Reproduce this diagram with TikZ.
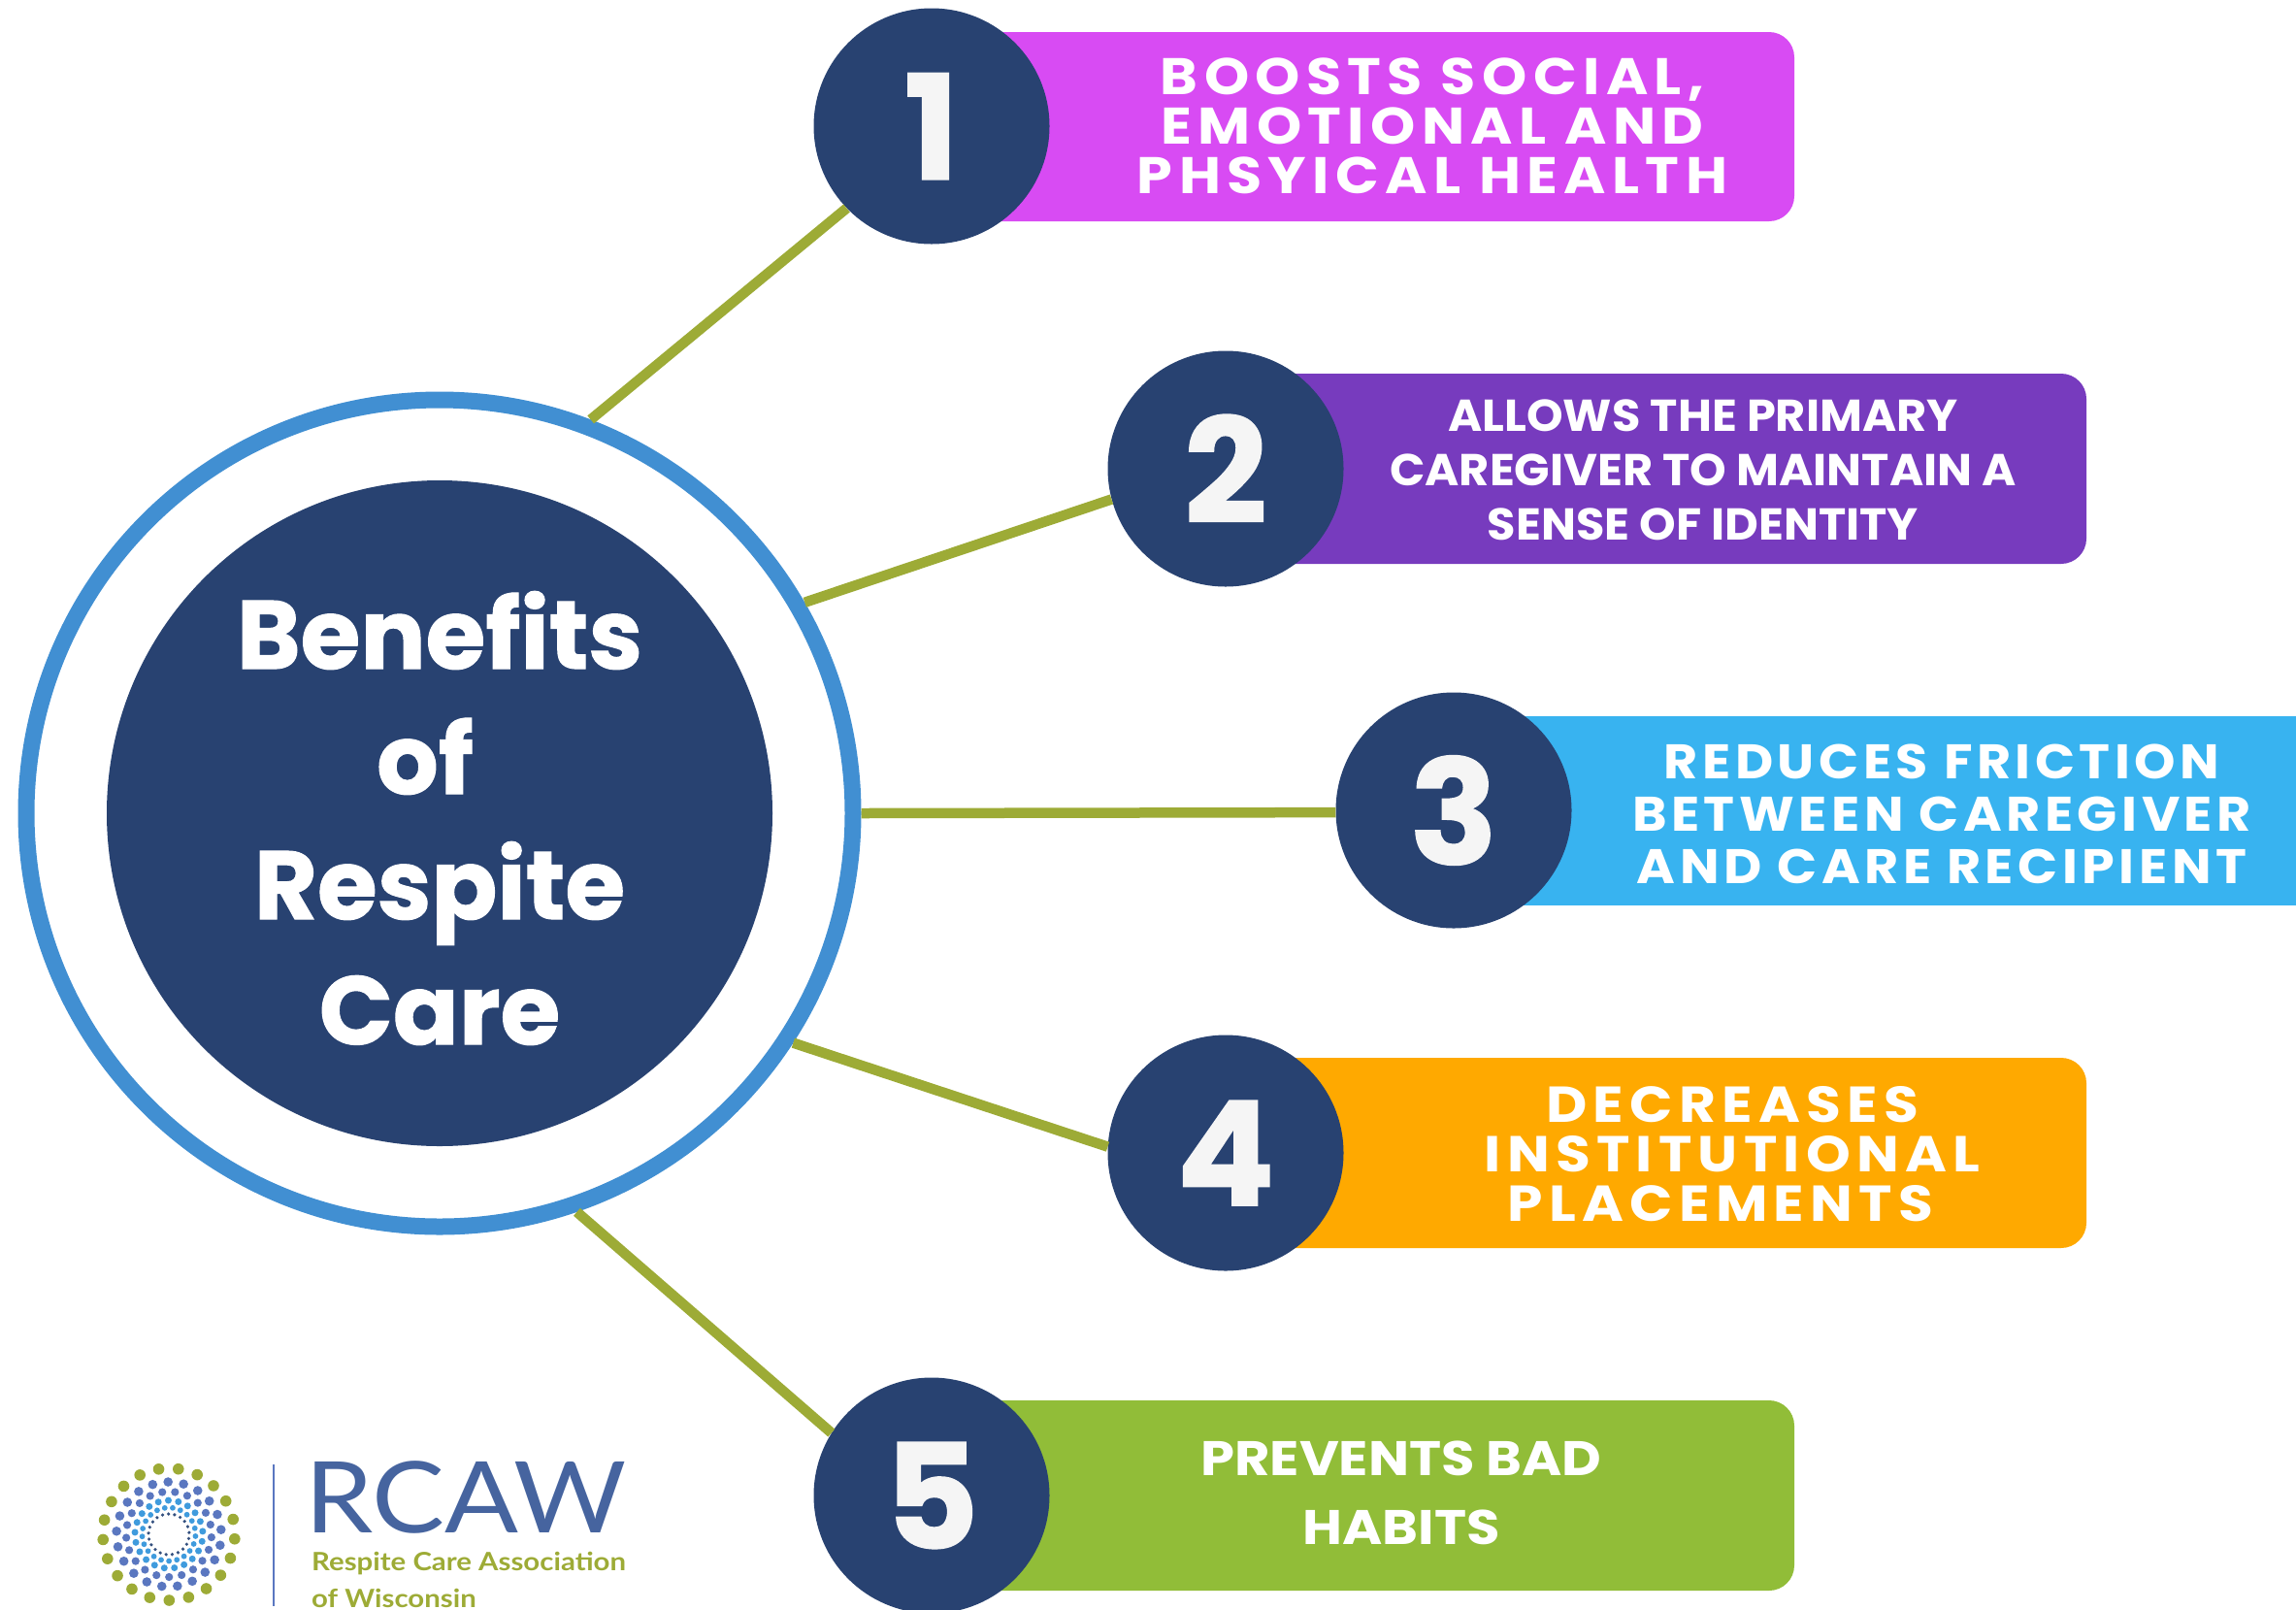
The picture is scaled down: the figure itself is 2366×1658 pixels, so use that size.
\documentclass[tikz,border=0pt]{standalone}
\usepackage{fontspec}
\setmainfont{Poppins}
\newfontfamily\heavy[FakeBold=1]{Poppins}
\newfontfamily\labA[LetterSpace=12,FakeStretch=1.11]{Poppins}
\newfontfamily\labB[FakeStretch=1.04]{Poppins}
\newfontfamily\labC[LetterSpace=9,FakeStretch=1.08]{Poppins}
\newfontfamily\labD[LetterSpace=12,FakeStretch=1.12]{Poppins}
\newfontfamily\labE[FakeStretch=1.12]{Poppins}
\newfontfamily\logofont[FakeStretch=1.1]{Lato}
\newfontfamily\logosmall[FakeStretch=1.13]{Lato}
\definecolor{navy}{HTML}{284271}
\definecolor{ringblue}{HTML}{418FD2}
\definecolor{olive}{HTML}{9DAB36}
\definecolor{barA}{HTML}{D84BF3}
\definecolor{barB}{HTML}{773BBE}
\definecolor{barC}{HTML}{38B3F0}
\definecolor{barD}{HTML}{FFA900}
\definecolor{barE}{HTML}{91BD38}
\definecolor{logoA}{HTML}{5A77C0}
\definecolor{logoB}{HTML}{3F9BDD}
\definecolor{logoC}{HTML}{34507F}
\definecolor{logoText}{HTML}{46649F}
\tikzset{
  x=1pt,y=-1pt,
  numcirc/.style={circle,fill=navy,minimum size=243pt,inner sep=0pt,text=white!96!black,font=\fontsize{150}{150}\heavy\bfseries},
  link/.style={draw=olive,line width=10.5pt},
  barlabel/.style={text=white,align=center,inner sep=0pt},
}
\newcommand{\numeral}[1]{\raisebox{-4pt}{#1}}
\begin{document}
\begin{tikzpicture}
\useasboundingbox (0,0) rectangle (2366,1658);
% bars
\fill[barA,rounded corners=26pt] (960,33) rectangle (1849,228);
\fill[barB,rounded corners=26pt] (1263,385) rectangle (2150,581);
\fill[barC] (1498,738) rectangle (2366,933);
\fill[barD,rounded corners=26pt] (1263,1090) rectangle (2150,1286);
\fill[barE,rounded corners=26pt] (960,1443) rectangle (1849,1639);
% main circle
\node[circle,draw=ringblue,fill=white,line width=17pt,minimum size=852pt,inner sep=0pt] (ring) at (453,838) {};
\node[circle,fill=navy,minimum size=686pt,inner sep=0pt] (hub) at (453,838) {};
\node[text=white,align=center,inner sep=0pt,font=\fontsize{100}{129}\heavy\bfseries] (title) at (453,843)
  {Benefits\\\hspace*{-30pt}of\\Respite\\Care};
% number circles
\node[numcirc] (n1) at (960,130) {\numeral{1}};
\node[numcirc] (n2) at (1263,483) {\numeral{2}};
\node[numcirc] (n3) at (1498,835) {\numeral{3}};
\node[numcirc] (n4) at (1263,1188) {\numeral{4}};
\node[numcirc] (n5) at (960,1541) {\numeral{5}};
% connectors
\draw[link] (ring.69) -- (n1.224);
\draw[link] (ring.30) -- (n2.195);
\draw[link] (ring.0) -- (n3.181.4);
\draw[link] (ring.-33) -- (n4.177);
\draw[link] (ring.-71) -- (n5.148);
% labels
\node[barlabel,font=\fontsize{53}{51}\labA\bfseries] (t1) at (1476,130) {BOOSTS SOCIAL,\\EMOTIONAL AND\\PHSYICAL HEALTH};
\node[barlabel,font=\fontsize{46}{56}\labB\bfseries] (t2) at (1755,484) {ALLOWS THE PRIMARY\\CAREGIVER TO MAINTAIN A\\SENSE OF IDENTITY};
\node[barlabel,font=\fontsize{50}{54}\labC\bfseries] (t3) at (2001,839) {REDUCES FRICTION\\BETWEEN CAREGIVER\\AND CARE RECIPIENT};
\node[barlabel,font=\fontsize{52}{51}\labD\bfseries] (t4) at (1785,1189) {DECREASES\\INSTITUTIONAL\\PLACEMENTS\hspace*{24pt}};
\node[barlabel,font=\fontsize{50}{71}\labE\bfseries] (t5) at (1444,1538) {PREVENTS BAD\\HABITS};
% logo mark
\begin{scope}[shift={(174,1581)}]
  \foreach \i in {0,...,20} \fill[olive] ({\i*360/21+4}:{68}) circle (5.8);
  \foreach \i in {0,...,20} \fill[logoA] ({\i*360/21+12}:{54}) circle (4.8);
  \foreach \i in {0,...,20} \fill[logoA] ({\i*360/21+4}:{44}) circle (4.1);
  \foreach \i in {0,...,20} \fill[logoB] ({\i*360/21+12}:{35}) circle (3.5);
  \foreach \i in {0,...,20} \fill[logoB] ({\i*360/21+4}:{27.5}) circle (2.9);
  \foreach \i in {0,...,20} \fill[logoC] ({\i*360/21+12}:{21}) circle (1.8);
\end{scope}
\draw[logoA,line width=2.5pt] (282,1509) -- (282,1655);
% logo text
\node[anchor=base west,inner sep=0pt,text=logoText,font=\fontsize{102}{102}\logofont] (rcaw) at (314,1579) {RCAW};
\node[anchor=base west,inner sep=0pt,text=olive,font=\fontsize{26}{26}\logosmall\bfseries] (l1) at (321,1618) {Respite Care Association};
\node[anchor=base west,inner sep=0pt,text=olive,font=\fontsize{26}{26}\logosmall\bfseries] (l2) at (321,1656) {of Wisconsin};
\end{tikzpicture}
\end{document}
